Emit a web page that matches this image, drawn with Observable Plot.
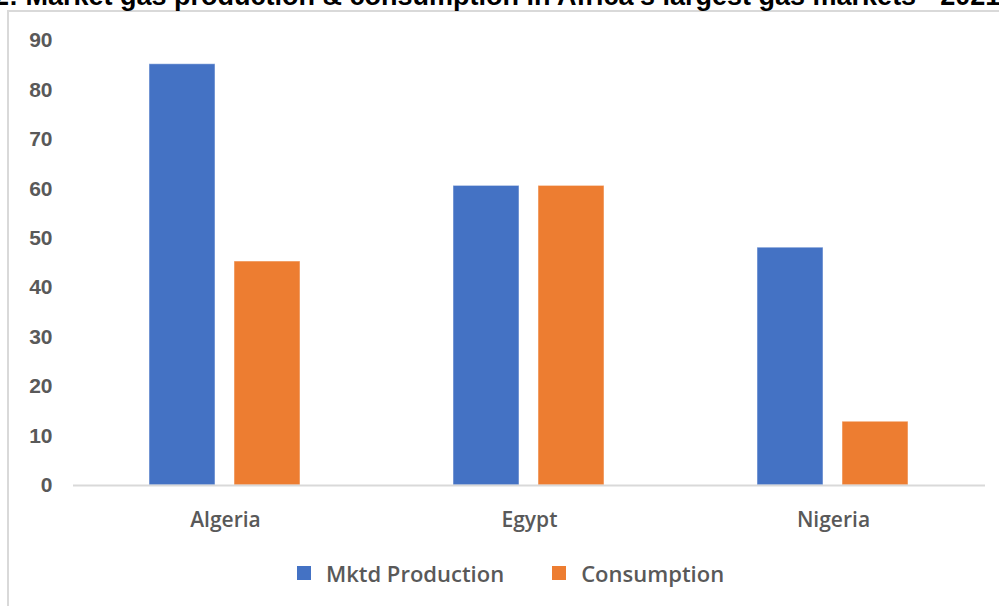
<!DOCTYPE html>
<html>
<head>
<meta charset="utf-8">
<script src="https://cdn.jsdelivr.net/npm/d3@7"></script>
<script src="https://cdn.jsdelivr.net/npm/@observablehq/plot@0.6"></script>
<style>
  html, body { margin: 0; padding: 0; background: #fff; }
  #wrap { position: relative; width: 999px; height: 606px; overflow: hidden; }
  #title { position: absolute; left: -6px; top: -19px; white-space: nowrap; font: bold 27px "Liberation Sans", Arial, sans-serif; line-height: 31px; color: #000; }
  #frame { position: absolute; left: 7px; top: 10px; width: 1100px; height: 700px; border-left: 2px solid #d9d9d9; border-top: 2px solid #d9d9d9; }
  #chart { position: absolute; left: 0; top: 0; }
  #legend { position: absolute; top: 558px; left: 0; width: 999px; display: flex; justify-content: center; gap: 48px; font: 600 22px "Open Sans", sans-serif; color: #595959; padding-left: 22px; box-sizing: border-box; }
  .item { display: flex; align-items: center; gap: 15px; }
  .sw { width: 14px; height: 14px; display: inline-block; }
</style>
</head>
<body>
<div id="wrap">
  <div id="frame"></div>
  <div id="title">2: Market gas production &amp; consumption in Africa's largest gas markets - 2021</div>
  <div id="chart"></div>
  <div id="legend"></div>
</div>
<script>
const countries = ["Algeria", "Egypt", "Nigeria"];
const seriesNames = ["Mktd Production", "Consumption"];
const production = [85.2, 60.6, 48.1];
const consumption = [45.3, 60.6, 12.9];
const colors = ["#4472C4", "#ED7D31"];
const yTicks = [0, 10, 20, 30, 40, 50, 60, 70, 80, 90];

const data = [];
countries.forEach((c, i) => {
  data.push({country: c, series: seriesNames[0], value: production[i]});
  data.push({country: c, series: seriesNames[1], value: consumption[i]});
});

const chart = Plot.plot({
  width: 999,
  height: 545,
  marginTop: 40,
  marginBottom: 60,
  marginLeft: 73,
  marginRight: 14,
  style: {background: "transparent", overflow: "visible"},
  fx: {domain: countries, padding: 0, label: null, axis: null},
  x: {domain: seriesNames, paddingInner: 0.22, paddingOuter: 0.88, axis: null},
  y: {domain: [0, 90], ticks: yTicks, label: null},
  color: {domain: seriesNames, range: colors},
  marks: [
    Plot.barY(data, {fx: "country", x: "series", y: "value", fill: "series", stroke: "#ffffff", strokeOpacity: 0.5, strokeWidth: 1}),
    Plot.ruleY([0], {stroke: "#d9d9d9", strokeWidth: 2}),
    Plot.axisY({ticks: yTicks, tickSize: 0, tickPadding: 21, fontSize: 21, fontWeight: "bold", fill: "#595959", fontFamily: "Liberation Sans, Arial, sans-serif", label: null}),
    Plot.axisFx({anchor: "bottom", tickSize: 0, tickPadding: 27, fontSize: 21, fill: "#595959", fontFamily: "Open Sans, sans-serif", fontWeight: 600, label: null})
  ]
});
document.getElementById("chart").appendChild(chart);

const legend = document.getElementById("legend");
seriesNames.forEach((s, i) => {
  const item = document.createElement("div");
  item.className = "item";
  const sw = document.createElement("span");
  sw.className = "sw";
  sw.style.background = colors[i];
  const t = document.createElement("span");
  t.textContent = s;
  item.appendChild(sw);
  item.appendChild(t);
  legend.appendChild(item);
});
</script>
</body>
</html>
